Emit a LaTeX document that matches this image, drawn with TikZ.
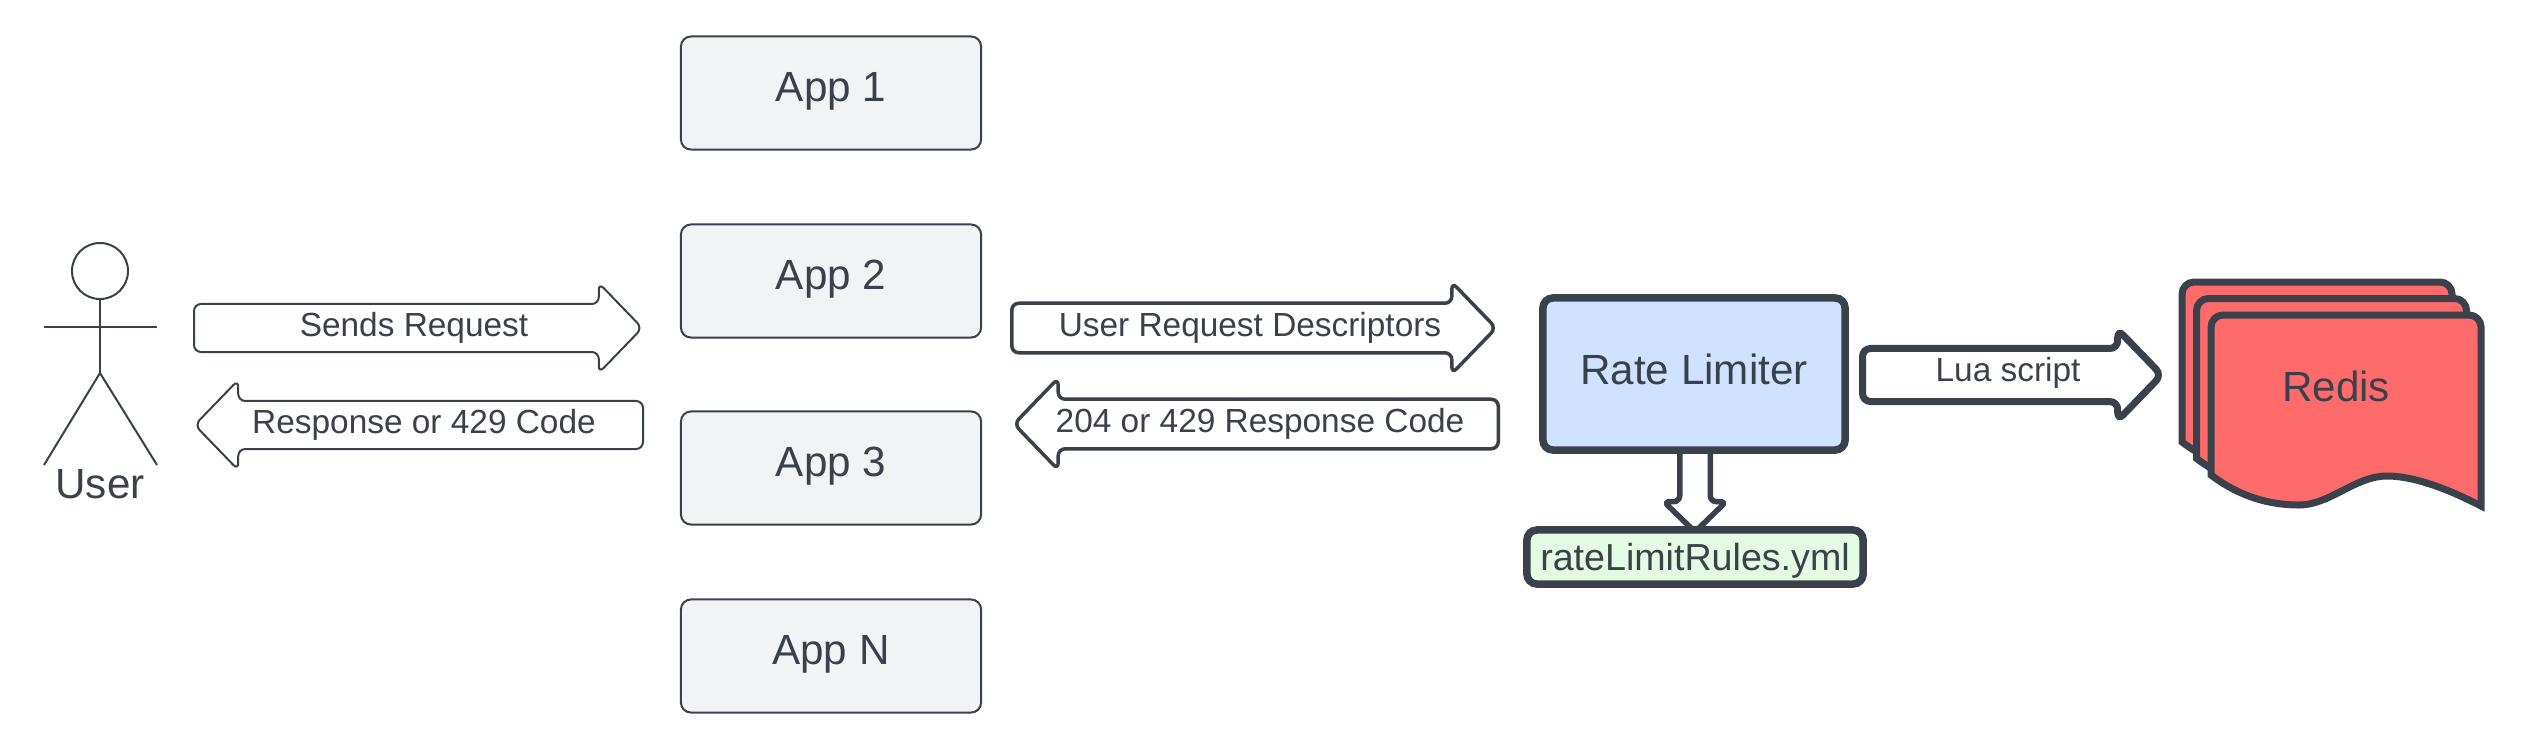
\documentclass[tikz,border=0pt]{standalone}
\usepackage{fontspec}
\setmainfont{Liberation Sans}
\usetikzlibrary{shapes.arrows}
\definecolor{inkgrey}{HTML}{3A414A}
\definecolor{appgrey}{HTML}{F2F3F5}
\definecolor{limiterblue}{HTML}{CFE2FF}
\definecolor{rulesgreen}{HTML}{E3FAE3}
\definecolor{redisred}{HTML}{FF6B6B}
\tikzset{
	appbox/.style={draw=inkgrey, line width=.2mm, fill=appgrey, rounded corners=1mm, minimum width=30mm, minimum height=11.3mm, font=\fontsize{12}{14}\selectfont, text=inkgrey, text height=8.6pt, text depth=3.5pt},
	thinarrow/.style={single arrow, draw=inkgrey, line width=.2mm, rounded corners=.7mm, fill=white, inner sep=2.3mm, minimum height=44.8mm, single arrow tip angle=92, single arrow head extend=2.1mm, anchor=tail},
	thickarrow/.style={thinarrow, line width=.35mm, minimum height=48.4mm},
	arrowtext/.style={text=inkgrey, font=\fontsize{9.5}{11}\selectfont, text height=7pt, text depth=2pt, inner sep=0pt},
	heavybox/.style={draw=inkgrey, line width=.75mm, rounded corners=1mm, text=inkgrey},
	sheet/.style={draw=inkgrey, line width=.7mm, fill=redisred, miter limit=10},
}
\begin{document}
\begin{tikzpicture}[x=.01cm, y=-.01cm]
	\useasboundingbox (0,0) rectangle (2543,754);
	\node (head) [circle, draw=inkgrey, line width=.2mm, minimum size=5.6mm, inner sep=0pt] at (100,271) {};
	\coordinate (hip) at (100,373);
	\coordinate (armL) at (44,327);
	\coordinate (armR) at (157,327);
	\coordinate (footL) at (44,465);
	\coordinate (footR) at (157,465);
	\draw[inkgrey, line width=.2mm] (head.south) -- (hip);
	\draw[inkgrey, line width=.2mm] (armL) -- (armR);
	\draw[inkgrey, line width=.2mm] (footL) -- (hip) -- (footR);
	\node (user) [text=inkgrey, font=\fontsize{12}{14}\selectfont] at (100,484) {User};
	\foreach \y/\name/\txt in {93/app1/App 1, 281/app2/App 2, 468/app3/App 3, 656/appN/App N}
	\node (\name) [appbox] at (831,\y) {\txt};
	\node (sends) [thinarrow] at (193,328) {};
	\node (sendsText) [arrowtext] at (414,328) {Sends Request};
	\node (response) [thinarrow, shape border rotate=180] at (644,425) {};
	\node (responseText) [arrowtext] at (424,425) {Response or 429 Code};
	\node (descriptors) [thickarrow] at (1010,328) {};
	\node (descriptorsText) [arrowtext] at (1250,328) {User Request Descriptors};
	\node (code) [thickarrow, shape border rotate=180] at (1500,424) {};
	\node (codeText) [arrowtext] at (1260,424) {204 or 429 Response Code};
	\node (load) [thinarrow, line width=.55mm, shape border rotate=270, minimum height=8.4mm, inner sep=1.25mm, single arrow head extend=1.6mm, rounded corners=.6mm] at (1695,445) {};
	\node (limiter) [heavybox, fill=limiterblue, minimum width=30.2mm, minimum height=15.2mm, font=\fontsize{12}{14}\selectfont, text depth=3pt] at (1694,374) {Rate Limiter};
	\node (rules) [heavybox, fill=rulesgreen, minimum width=33.6mm, minimum height=5.4mm, inner sep=0pt, text depth=0pt, font=\fontsize{10.7}{13}\selectfont] at (1695,557) {rateLimitRules.yml};
	\node (store) [thinarrow, line width=.7mm, minimum height=29.9mm, single arrow head extend=1.9mm, rounded corners=.8mm] at (1859,375) {};
	\node (storeText) [arrowtext] at (2008,373) {Lua script};
	\foreach \dx/\dy in {-29/-33, -14.5/-16.5, 0/0}
	\draw[sheet, shift={(\dx,\dy)}] (2211,475) [rounded corners=1.2mm] -- (2211,315) -- (2481,315) [sharp corners] -- (2481,506) .. controls (2450,490) and (2415,476) .. (2387,476) .. controls (2355,476) and (2330,505) .. (2299,505) .. controls (2270,505) and (2240,497) .. (2211,475) -- cycle;
	\node (redis) [text=inkgrey, font=\fontsize{12}{14}\selectfont] at (2336,386) {Redis};
\end{tikzpicture}
\end{document}
